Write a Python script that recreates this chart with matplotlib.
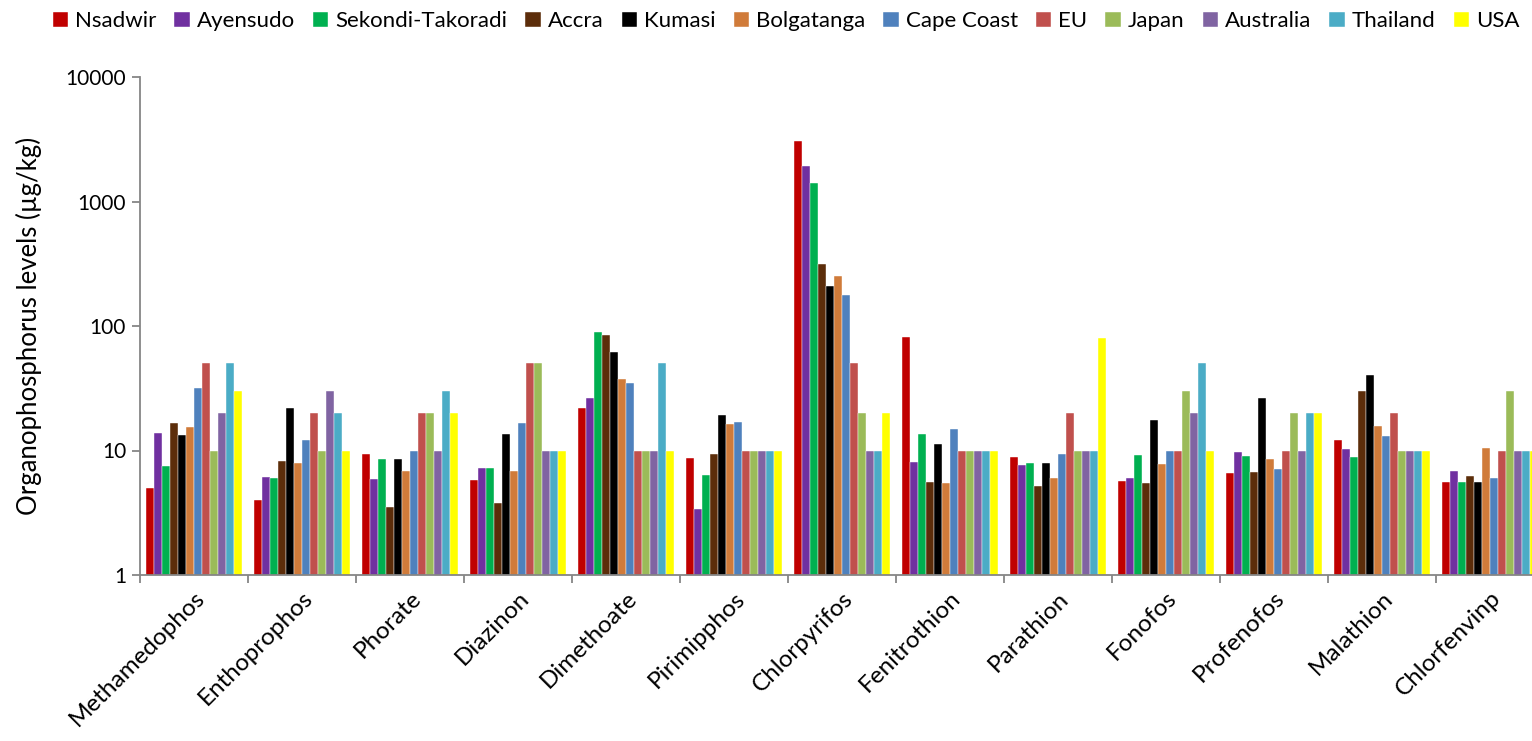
import numpy as np
import matplotlib.pyplot as plt
from matplotlib.ticker import FixedLocator, NullLocator

plt.rcParams['font.family'] = ['Lato', 'DejaVu Sans']

# Organophosphorus residues (µg/kg) per pesticide, with reference limits
pesticides = ['Methamedophos', 'Enthoprophos', 'Phorate', 'Diazinon', 'Dimethoate',
              'Pirimipphos', 'Chlorpyrifos', 'Fenitrothion', 'Parathion', 'Fonofos',
              'Profenofos', 'Malathion', 'Chlorfenvinp']

sites = ['Nsadwir', 'Ayensudo', 'Sekondi-Takoradi', 'Accra', 'Kumasi', 'Bolgatanga',
         'Cape Coast', 'EU', 'Japan', 'Australia', 'Thailand', 'USA']

nsadwir = [5.0, 4.0, 9.3, 5.8, 21.9, 8.7, 3060, 81.6, 8.9, 5.65, 6.6, 12.1, 5.55]
ayensudo = [13.7, 6.1, 5.9, 7.3, 26.4, 3.4, 1940, 8.1, 7.6, 6.0, 9.7, 10.3, 6.9]
sekondi_takoradi = [7.55, 6.0, 8.5, 7.2, 90, 6.4, 1408, 13.6, 7.9, 9.25, 9.0, 8.9, 5.6]
accra = [16.5, 8.2, 3.5, 3.8, 84.7, 9.3, 315, 5.6, 5.2, 5.5, 6.7, 30.2, 6.2]
kumasi = [13.3, 21.8, 8.6, 13.5, 61.9, 19.2, 209, 11.3, 7.9, 17.6, 26.5, 40.2, 5.55]
bolgatanga = [15.4, 8.0, 6.9, 6.8, 37.3, 16.4, 252, 5.5, 6.0, 7.75, 8.5, 15.7, 10.4]
cape_coast = [32, 12.1, 10, 16.5, 34.8, 16.9, 176, 14.8, 9.3, 10, 7.1, 13.1, 6.0]
eu = [50, 20, 20, 50, 10, 10, 50, 10, 20, 10, 10, 20, 10]
japan = [10, 10, 20, 50, 10, 10, 20, 10, 10, 30, 20, 10, 30]
australia = [20, 30, 10, 10, 10, 10, 10, 10, 10, 20, 10, 10, 10]
thailand = [50, 20, 30, 10, 50, 10, 10, 10, 10, 50, 20, 10, 10]
usa = [30, 10, 20, 10, 10, 10, 20, 10, 80, 10, 20, 10, 10]

series = [nsadwir, ayensudo, sekondi_takoradi, accra, kumasi, bolgatanga,
          cape_coast, eu, japan, australia, thailand, usa]
colors = ['#C00000', '#7030A0', '#00B050', '#5C2D0A', '#000000', '#D07B3A',
          '#4F81BD', '#C0504D', '#9BBB59', '#8064A2', '#4BACC6', '#FFFF00']

fig = plt.figure(figsize=(15.32, 7.41), dpi=100)
# plot area runs slightly past the right edge of the figure
ax = fig.add_axes([140 / 1532, 166 / 741, 1404 / 1532, 498 / 741])

x = np.arange(len(pesticides))
n = len(series)
width = 1 / 13.5
for i, (vals, col, name) in enumerate(zip(series, colors, sites)):
    offs = (i - (n - 1) / 2) * width
    ax.bar(x + offs, vals, width, color=col, label=name,
           edgecolor='white', linewidth=0.3)

ax.set_yscale('log')
ax.set_ylim(1, 10000)
ax.set_xlim(-0.5, len(pesticides) - 0.5)
ax.yaxis.set_major_locator(FixedLocator([1, 10, 100, 1000, 10000]))
ax.set_yticklabels(['1', '10', '100', '1000', '10000'])
ax.yaxis.set_minor_locator(NullLocator())

ax.set_xticks(x)
ax.set_xticklabels(pesticides, rotation=45, ha='right', rotation_mode='anchor')
ax.set_xticks(np.arange(len(pesticides) + 1) - 0.5, minor=True)
ax.tick_params(axis='x', which='major', length=0, pad=9, labelsize=17.5)
ax.tick_params(axis='x', which='minor', length=6, color='#868686', width=1.3)
ax.tick_params(axis='y', which='major', length=6, color='#868686', width=1.3,
               labelsize=15, pad=4)

for side in ['top', 'right']:
    ax.spines[side].set_visible(False)
for side in ['left', 'bottom']:
    ax.spines[side].set_color('#868686')
    ax.spines[side].set_linewidth(1.3)

ax.set_ylabel('Organophosphorus levels (µg/kg)', fontsize=18.5)
ax.yaxis.set_label_coords(-0.07, 0.5)

fig.legend(loc='upper center', bbox_to_anchor=(0.513, 1.012), ncol=12, frameon=False,
           fontsize=16, handlelength=0.7, handleheight=0.7, handletextpad=0.3,
           columnspacing=0.82)

fig.savefig('out.png', dpi=100)
